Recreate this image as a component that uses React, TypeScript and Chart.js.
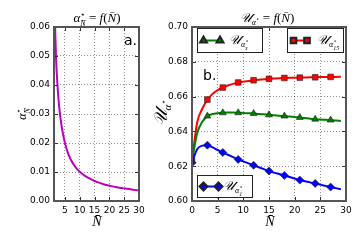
import React, { useEffect, useRef } from 'react';
import { Chart, registerables } from 'chart.js';
import { drawPoint } from 'chart.js/helpers';

Chart.register(...registerables);

// ---------- data ----------
const leftN = [1.3, 1.5, 1.75, 2, 2.5, 3, 3.5, 4, 5, 6, 7, 8, 9, 10, 12, 14, 16, 18, 20, 22, 24, 26, 28, 30];
const leftAlpha = [0.082, 0.068, 0.057, 0.049, 0.0395, 0.033, 0.0285, 0.025, 0.02, 0.0166, 0.0142, 0.0125, 0.0111, 0.0101, 0.0085, 0.0074, 0.0065, 0.0058, 0.0053, 0.0048, 0.0045, 0.0042, 0.0039, 0.0036];
const leftXTicks = [5, 10, 15, 20, 25, 30];
const leftYTicks = [0, 0.01, 0.02, 0.03, 0.04, 0.05, 0.06];

const rightN = [0, 1, 2, 3, 4, 5, 6, 7, 8, 9, 10, 11, 12, 13, 14, 15, 16, 17, 18, 19, 20, 21, 22, 23, 24, 25, 26, 27, 28, 29];
const redU = [0.623, 0.645, 0.653, 0.6583, 0.6615, 0.6637, 0.6652, 0.6664, 0.6673, 0.6681, 0.6686, 0.669, 0.6694, 0.6697, 0.67, 0.6702, 0.6704, 0.6706, 0.6707, 0.6708, 0.6709, 0.6709, 0.671, 0.6711, 0.6711, 0.6712, 0.6712, 0.6713, 0.6713, 0.6714];
const greenU = [0.623, 0.639, 0.6455, 0.6488, 0.65, 0.6505, 0.6507, 0.6508, 0.6508, 0.6507, 0.6506, 0.6504, 0.6503, 0.65, 0.6498, 0.6495, 0.6493, 0.649, 0.6488, 0.6485, 0.6483, 0.648, 0.6477, 0.6473, 0.647, 0.6468, 0.6467, 0.6465, 0.6462, 0.646];
const blueU = [0.622, 0.6298, 0.6318, 0.6321, 0.6308, 0.6293, 0.6279, 0.6266, 0.6252, 0.6239, 0.6228, 0.6216, 0.6205, 0.6194, 0.6183, 0.6172, 0.6163, 0.6155, 0.6147, 0.6138, 0.6129, 0.612, 0.6114, 0.6107, 0.6101, 0.6094, 0.6087, 0.608, 0.6074, 0.6068];
const rightXTicks = [0, 5, 10, 15, 20, 25, 30];
const rightYTicks = [0.6, 0.62, 0.64, 0.66, 0.68, 0.7];

const RED = '#ff0000';
const GREEN = '#008000';
const BLUE = '#0000ff';
const MAGENTA = '#bf00bf';

const SERIF = '"Liberation Serif", "DejaVu Serif", serif';
const SANS = '"DejaVu Sans", sans-serif';
const SCRIPT_U = '\u{1D4B0}';
const NBAR = 'N\u0304';
const STAR = '\u22C6';

// ---------- rich text helper ----------
type Seg = { t: string; size: number; dy?: number; italic?: boolean; fam?: string };
type Item = Seg | Seg[];

function fontOf(s: Seg) {
  return `${s.italic ? 'italic ' : ''}${s.size}px ${s.fam ?? SERIF}`;
}
function itemWidth(ctx: CanvasRenderingContext2D, it: Item) {
  const arr = Array.isArray(it) ? it : [it];
  let w = 0;
  for (const s of arr) {
    ctx.font = fontOf(s);
    w = Math.max(w, ctx.measureText(s.t).width);
  }
  return w;
}
function drawRich(ctx: CanvasRenderingContext2D, items: Item[], x: number, y: number, align: 'left' | 'center', rot = 0) {
  ctx.save();
  ctx.translate(x, y);
  ctx.rotate(rot);
  ctx.fillStyle = '#000';
  ctx.textBaseline = 'alphabetic';
  ctx.textAlign = 'left';
  const total = items.reduce((a, it) => a + itemWidth(ctx, it), 0);
  let cx = align === 'center' ? -total / 2 : 0;
  for (const it of items) {
    const arr = Array.isArray(it) ? it : [it];
    const w = itemWidth(ctx, it);
    for (const s of arr) {
      ctx.font = fontOf(s);
      ctx.fillText(s.t, cx, s.dy ?? 0);
    }
    cx += w;
  }
  ctx.restore();
}

function drawFrame(chart: any) {
  const { ctx, chartArea: a } = chart;
  ctx.save();
  ctx.strokeStyle = '#333';
  ctx.lineWidth = 1;
  const xs = chart.scales.x;
  const ys = chart.scales.y;
  for (const t of xs.ticks) {
    const px = Math.round(xs.getPixelForValue(t.value)) + 0.5;
    ctx.beginPath();
    ctx.moveTo(px, a.bottom);
    ctx.lineTo(px, a.bottom - 4);
    ctx.moveTo(px, a.top);
    ctx.lineTo(px, a.top + 4);
    ctx.stroke();
  }
  for (const t of ys.ticks) {
    const py = Math.round(ys.getPixelForValue(t.value)) + 0.5;
    ctx.beginPath();
    ctx.moveTo(a.left, py);
    ctx.lineTo(a.left + 4, py);
    ctx.moveTo(a.right, py);
    ctx.lineTo(a.right - 4, py);
    ctx.stroke();
  }
  ctx.strokeStyle = '#555';
  ctx.lineWidth = 2;
  ctx.strokeRect(a.left, a.top, a.right - a.left, a.bottom - a.top);
  ctx.restore();
}

const gridOpts = { color: 'rgba(0,0,0,0.55)', lineWidth: 0.8, drawTicks: false };
const borderOpts = { display: false, dash: [1, 2] };
const tickFont = { family: SANS, size: 9 };

function LeftChart() {
  const ref = useRef<HTMLCanvasElement>(null);
  useEffect(() => {
    const textPlugin = {
      id: 'leftText',
      afterDraw(chart: any) {
        const ctx = chart.ctx as CanvasRenderingContext2D;
        drawFrame(chart);
        drawRich(ctx, [
          { t: '\u03B1', size: 13, italic: true },
          [{ t: STAR, size: 8, dy: -5, fam: SANS }, { t: NBAR, size: 8, dy: 4, italic: true }],
          { t: ' = ', size: 13 },
          { t: 'f', size: 13, italic: true },
          { t: '(', size: 13 },
          { t: NBAR, size: 13, italic: true },
          { t: ')', size: 13 },
        ], 97, 22, 'center');
        drawRich(ctx, [
          { t: '\u03B1', size: 12, italic: true },
          [{ t: STAR, size: 8, dy: -5, fam: SANS }, { t: NBAR, size: 8, dy: 4, italic: true }],
        ], 26, 114, 'center', -Math.PI / 2);
        drawRich(ctx, [{ t: NBAR, size: 14, italic: true }], 97, 226, 'center');
        ctx.save();
        ctx.font = `14px ${SANS}`;
        ctx.fillStyle = '#000';
        ctx.fillText('a.', 124, 45);
        ctx.restore();
      },
    };
    const chart = new Chart(ref.current!, {
      type: 'line',
      data: {
        datasets: [{
          data: leftN.map((n, i) => ({ x: n, y: leftAlpha[i] })),
          borderColor: MAGENTA,
          borderWidth: 2,
          pointRadius: 0,
          cubicInterpolationMode: 'monotone',
          fill: false,
        }],
      },
      options: {
        animation: false,
        responsive: false,
        devicePixelRatio: 1,
        layout: { padding: { left: 0, top: 27, right: 11, bottom: 0 } },
        plugins: { legend: { display: false }, tooltip: { enabled: false } },
        scales: {
          x: {
            type: 'linear', min: 1.3, max: 30,
            afterBuildTicks: (s: any) => { s.ticks = leftXTicks.map(v => ({ value: v })); },
            afterFit: (s: any) => { s.height = 39; },
            grid: gridOpts, border: borderOpts,
            ticks: { font: tickFont, color: '#000', padding: 4, maxRotation: 0, autoSkip: false, callback: (v: any) => String(v) },
          },
          y: {
            type: 'linear', min: 0, max: 0.06,
            afterBuildTicks: (s: any) => { s.ticks = leftYTicks.map(v => ({ value: v })); },
            afterFit: (s: any) => { s.width = 54; },
            grid: gridOpts, border: borderOpts,
            ticks: { font: tickFont, color: '#000', padding: 4, autoSkip: false, callback: (v: any) => Number(v).toFixed(2) },
          },
        },
      },
      plugins: [textPlugin],
    } as any);
    return () => chart.destroy();
  }, []);
  return <canvas ref={ref} width={150} height={240} style={{ position: 'absolute', left: 0, top: 0 }} />;
}

function uLabel(sub: string): Item[] {
  return [
    { t: SCRIPT_U, size: 13, italic: true },
    { t: '\u03B1', size: 8, dy: 3, italic: true },
    [{ t: STAR, size: 6, dy: -1, fam: SANS }, { t: sub, size: 6, dy: 6, italic: true }],
  ];
}

function legendBox(ctx: CanvasRenderingContext2D, x: number, y: number, w: number, h: number, color: string, style: string, m1: number, m2: number, label: Item[], lx: number) {
  ctx.save();
  ctx.fillStyle = '#fff';
  ctx.fillRect(x, y, w, h);
  ctx.strokeStyle = '#222';
  ctx.lineWidth = 1;
  ctx.strokeRect(x + 0.5, y + 0.5, w, h);
  const cy = y + h / 2 + 0.5;
  ctx.strokeStyle = color;
  ctx.lineWidth = 2;
  ctx.beginPath();
  ctx.moveTo(m1, cy);
  ctx.lineTo(m2, cy);
  ctx.stroke();
  ctx.fillStyle = color;
  ctx.strokeStyle = '#222';
  for (const mx of [m1, m2]) {
    drawPoint(ctx, { pointStyle: style as any, rotation: 0, radius: 4, borderWidth: 0.6 } as any, mx, cy);
  }
  ctx.restore();
  drawRich(ctx, label, lx, cy + 3, 'left');
}

function RightChart() {
  const ref = useRef<HTMLCanvasElement>(null);
  useEffect(() => {
    const textPlugin = {
      id: 'rightText',
      afterDraw(chart: any) {
        const ctx = chart.ctx as CanvasRenderingContext2D;
        drawFrame(chart);
        drawRich(ctx, [
          { t: SCRIPT_U, size: 13, italic: true },
          { t: '\u03B1', size: 8, dy: 3, italic: true },
          { t: STAR, size: 6, dy: -1, fam: SANS },
          { t: ' = ', size: 13 },
          { t: 'f', size: 13, italic: true },
          { t: '(', size: 13 },
          { t: NBAR, size: 13, italic: true },
          { t: ')', size: 13 },
        ], 117, 22, 'center');
        drawRich(ctx, [
          { t: SCRIPT_U, size: 18, italic: true },
          { t: '\u03B1', size: 11, dy: 4, italic: true },
          { t: STAR, size: 8, dy: -1, fam: SANS },
        ], 17, 113, 'center', -Math.PI / 2);
        drawRich(ctx, [{ t: NBAR, size: 14, italic: true }], 120, 226, 'center');
        ctx.save();
        ctx.font = `14px ${SANS}`;
        ctx.fillStyle = '#000';
        ctx.fillText('b.', 53, 80);
        ctx.restore();
        legendBox(ctx, 47, 28, 65, 24, GREEN, 'triangle', 53.5, 70, uLabel('s'), 79);
        legendBox(ctx, 137, 28, 56, 24, RED, 'rect', 143.5, 157, uLabel('15'), 167);
        legendBox(ctx, 47, 175, 55, 22, BLUE, 'rectRot', 53.5, 68.5, uLabel('1'), 73);
      },
    };
    const ds = (vals: number[], color: string, style: string) => ({
      data: rightN.map((n, i) => ({ x: n, y: vals[i] })),
      borderColor: color,
      backgroundColor: color,
      borderWidth: 2,
      pointStyle: style,
      pointRadius: (c: any) => (c.dataIndex % 3 === 0 ? 4 : 0),
      pointBackgroundColor: color,
      pointBorderColor: '#222',
      pointBorderWidth: 0.6,
      cubicInterpolationMode: 'monotone',
      fill: false,
    });
    const chart = new Chart(ref.current!, {
      type: 'line',
      data: {
        datasets: [
          ds(blueU, BLUE, 'rectRot'),
          ds(greenU, GREEN, 'triangle'),
          ds(redU, RED, 'rect'),
        ],
      },
      options: {
        animation: false,
        responsive: false,
        devicePixelRatio: 1,
        layout: { padding: { left: 0, top: 27, right: 14, bottom: 0 } },
        plugins: { legend: { display: false }, tooltip: { enabled: false } },
        scales: {
          x: {
            type: 'linear', min: 0, max: 30,
            afterBuildTicks: (s: any) => { s.ticks = rightXTicks.map(v => ({ value: v })); },
            afterFit: (s: any) => { s.height = 39; },
            grid: gridOpts, border: borderOpts,
            ticks: { font: tickFont, color: '#000', padding: 4, maxRotation: 0, autoSkip: false, callback: (v: any) => String(v) },
          },
          y: {
            type: 'linear', min: 0.6, max: 0.7,
            afterBuildTicks: (s: any) => { s.ticks = rightYTicks.map(v => ({ value: v })); },
            afterFit: (s: any) => { s.width = 42; },
            grid: gridOpts, border: borderOpts,
            ticks: { font: tickFont, color: '#000', padding: 4, autoSkip: false, callback: (v: any) => Number(v).toFixed(2) },
          },
        },
      },
      plugins: [textPlugin],
    } as any);
    return () => chart.destroy();
  }, []);
  return <canvas ref={ref} width={210} height={240} style={{ position: 'absolute', left: 150, top: 0 }} />;
}

export default function App() {
  return (
    <div style={{ position: 'fixed', left: 0, top: 0, width: 360, height: 240, background: '#fff', overflow: 'hidden' }}>
      <LeftChart />
      <RightChart />
    </div>
  );
}
